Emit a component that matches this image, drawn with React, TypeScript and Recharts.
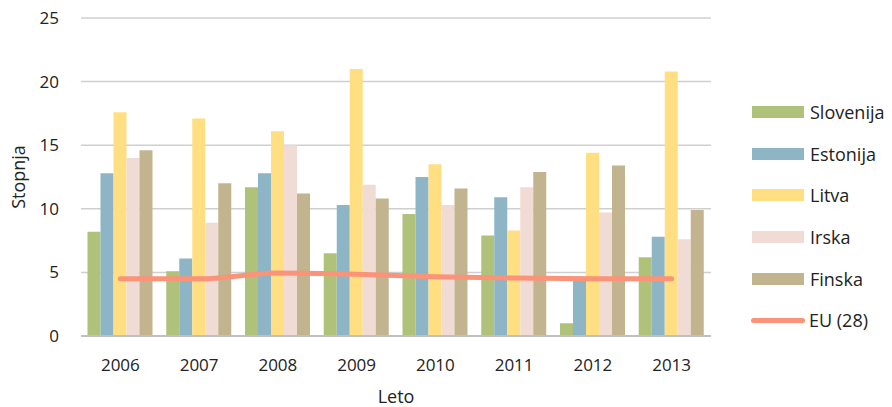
import { ComposedChart, Bar, Line, XAxis, YAxis, CartesianGrid, Legend } from "recharts";

const years = ["2006", "2007", "2008", "2009", "2010", "2011", "2012", "2013"];
const slovenija = [8.2, 5.1, 11.7, 6.5, 9.6, 7.9, 1.0, 6.2];
const estonija = [12.8, 6.1, 12.8, 10.3, 12.5, 10.9, 4.4, 7.8];
const litva = [17.6, 17.1, 16.1, 21.0, 13.5, 8.3, 14.4, 20.8];
const irska = [14.0, 8.9, 15.0, 11.9, 10.3, 11.7, 9.7, 7.6];
const finska = [14.6, 12.0, 11.2, 10.8, 11.6, 12.9, 13.4, 9.9];
const eu28 = [4.5, 4.5, 4.95, 4.85, 4.65, 4.55, 4.5, 4.5];
const yTicks = [0, 5, 10, 15, 20, 25];
const seriesOrder = ["Slovenija", "Estonija", "Litva", "Irska", "Finska", "EU (28)"];

const data = years.map((leto, i) => ({
  leto,
  Slovenija: slovenija[i],
  Estonija: estonija[i],
  Litva: litva[i],
  Irska: irska[i],
  Finska: finska[i],
  "EU (28)": eu28[i],
}));

const font = "'Open Sans', sans-serif";

// legenda desno, ena vrstica na serijo
const renderLegend = (props: any) => {
  const payload = [...props.payload].sort(
    (a: any, b: any) => seriesOrder.indexOf(a.value) - seriesOrder.indexOf(b.value)
  );
  return (
    <div style={{ fontFamily: font, fontSize: 18, color: "#222", paddingTop: 91 }}>
      {payload.map((p: any) => (
        <div key={p.value} style={{ height: 41.7, display: "flex", alignItems: "center" }}>
          {p.type === "line" ? (
            <span style={{ width: 54, height: 5, borderRadius: 3, background: p.color, marginRight: 4, marginLeft: -1 }} />
          ) : (
            <span style={{ width: 52, height: 12, background: p.color, marginRight: 6 }} />
          )}
          <span>{p.value}</span>
        </div>
      ))}
    </div>
  );
};

export default function App() {
  return (
    <div style={{ position: "absolute", left: 0, top: 0, background: "#fff" }}>
      <ComposedChart
        width={892}
        height={407}
        data={data}
        margin={{ top: 18, right: 41, bottom: 0, left: 0 }}
        barCategoryGap={6.5}
        barGap={0}
      >
        <CartesianGrid vertical={false} stroke="#cfcfcf" strokeWidth={1.5} />
        <XAxis
          dataKey="leto"
          height={71}
          tickLine={false}
          tickSize={0}
          tickMargin={23}
          axisLine={{ stroke: "#c0c0c0", strokeWidth: 2 }}
          tick={{ fill: "#222", fontSize: 17, fontFamily: font }}
          label={{ value: "Leto", position: "insideBottom", offset: 4, fill: "#222", fontSize: 18, fontFamily: font }}
        />
        <YAxis
          width={81}
          domain={[0, 25]}
          ticks={yTicks}
          axisLine={false}
          tickLine={false}
          tickSize={0}
          tickMargin={22}
          tick={{ fill: "#222", fontSize: 17, fontFamily: font }}
          label={{
            content: () => (
              <text
                x={25}
                y={177}
                transform="rotate(-90 25 177)"
                textAnchor="middle"
                fill="#222"
                fontSize={18}
                fontFamily={font}
              >
                Stopnja
              </text>
            ),
          }}
        />
        <Legend
          layout="vertical"
          align="right"
          verticalAlign="top"
          content={renderLegend}
          wrapperStyle={{ position: "absolute", left: 752, top: 0, width: 140, height: 407 }}
        />
        <Bar dataKey="Slovenija" fill="#b0c27a" isAnimationActive={false} />
        <Bar dataKey="Estonija" fill="#8db5c6" isAnimationActive={false} />
        <Bar dataKey="Litva" fill="#ffdf82" isAnimationActive={false} />
        <Bar dataKey="Irska" fill="#f0dcd4" isAnimationActive={false} />
        <Bar dataKey="Finska" fill="#c2b48e" isAnimationActive={false} />
        <Line
          dataKey="EU (28)"
          type="monotone"
          stroke="#fa9378"
          strokeWidth={5}
          strokeLinecap="round"
          dot={false}
          activeDot={false}
          isAnimationActive={false}
        />
      </ComposedChart>
    </div>
  );
}
